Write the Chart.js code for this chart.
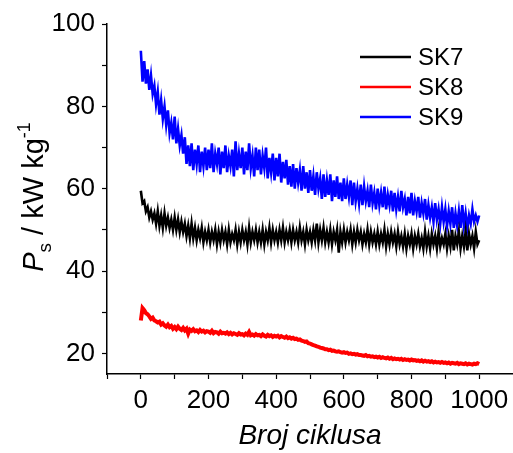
<!DOCTYPE html>
<html lang="hr">
<head>
  <meta charset="UTF-8" />
  <title>Ps vs broj ciklusa</title>
  <script src="https://cdn.jsdelivr.net/npm/chart.js"></script>
  <style>
    body {
      margin: 0;
      background-color: white;
    }
  </style>
</head>
<body>
  <canvas id="psChart" width="513" height="453"></canvas>

  <script>
    // broj ciklusa (svakih 5)
    const cycles = [
      0, 5, 10, 15, 20, 25, 30, 35, 40, 45, 50, 55, 60, 65, 70, 75, 80, 85, 90, 95,
      100, 105, 110, 115, 120, 125, 130, 135, 140, 145, 150, 155, 160, 165, 170, 175, 180, 185, 190, 195,
      200, 205, 210, 215, 220, 225, 230, 235, 240, 245, 250, 255, 260, 265, 270, 275, 280, 285, 290, 295,
      300, 305, 310, 315, 320, 325, 330, 335, 340, 345, 350, 355, 360, 365, 370, 375, 380, 385, 390, 395,
      400, 405, 410, 415, 420, 425, 430, 435, 440, 445, 450, 455, 460, 465, 470, 475, 480, 485, 490, 495,
      500, 505, 510, 515, 520, 525, 530, 535, 540, 545, 550, 555, 560, 565, 570, 575, 580, 585, 590, 595,
      600, 605, 610, 615, 620, 625, 630, 635, 640, 645, 650, 655, 660, 665, 670, 675, 680, 685, 690, 695,
      700, 705, 710, 715, 720, 725, 730, 735, 740, 745, 750, 755, 760, 765, 770, 775, 780, 785, 790, 795,
      800, 805, 810, 815, 820, 825, 830, 835, 840, 845, 850, 855, 860, 865, 870, 875, 880, 885, 890, 895,
      900, 905, 910, 915, 920, 925, 930, 935, 940, 945, 950, 955, 960, 965, 970, 975, 980, 985, 990, 995,
      1000
    ];

    const sk7 = [
      59.5, 56.5, 57, 54.5, 55.5, 53, 54.5, 52.5, 54, 51.5,
      54.5, 51, 53.5, 50.5, 54, 51, 53, 50.5, 52.5, 50,
      53, 50, 52.5, 49.5, 52, 49.5, 51.5, 48.5, 51, 48,
      51.5, 48, 50.5, 47.5, 50, 48, 50.5, 47, 49.5, 47.5,
      50, 47, 49.5, 47.5, 50, 46.5, 49.5, 47, 50, 47.5,
      49.5, 46.5, 50, 47, 49, 47.5, 50, 46.5, 49.5, 47,
      50, 47.5, 49.5, 46.5, 50.5, 47, 49.5, 47.5, 50, 47,
      49.5, 47, 50, 46.5, 49.5, 47.5, 50.5, 47, 50, 47.5,
      49.5, 47, 50, 47.5, 50.5, 47, 49.5, 47.5, 50, 47,
      50, 47.5, 49.5, 47, 50.5, 47.5, 49.5, 46.5, 50, 47.5,
      49.5, 47, 50, 47.5, 51.5, 47, 50, 47.5, 50.5, 47,
      49.5, 47, 50, 46.5, 49.5, 47.5, 50, 44.5, 49.5, 47,
      50, 47, 49.5, 47.5, 50, 46.5, 49.5, 47, 50, 47.5,
      49.5, 46.5, 49, 47, 50, 46.5, 49.5, 47, 49, 46.5,
      49.5, 46.5, 49, 47, 50, 46, 49, 46.5, 49.5, 47,
      49, 46, 49.5, 46.5, 48.5, 46, 49, 45.5, 48.5, 46.5,
      49, 45.5, 48.5, 46.5, 49, 46, 48, 45.5, 49.5, 46,
      48.5, 45.5, 49, 46.5, 48.5, 45.5, 49.5, 46, 48, 46.5,
      49, 45.5, 48.5, 46, 50, 45, 48.5, 46.5, 49.5, 45.5,
      48.5, 46, 49.5, 45, 49, 46.5, 48.5, 45.5, 49.5, 46.5,
      47.5
    ];

    const sk8 = [
      28, 31, 30.5, 29.8, 29.5, 29, 28.4, 28.7, 28, 27.8,
      27.5, 27.7, 27, 27.3, 26.8, 26.5, 27, 26.4, 26.7, 26,
      26.4, 25.9, 26.5, 26, 25.7, 26.2, 25.6, 26, 24.8, 25.8,
      25.5, 25.9, 25.4, 25.6, 25.2, 25.7, 25.3, 25.5, 25.1, 25.4,
      25.3, 25, 25.5, 24.9, 25.2, 25.1, 24.8, 25.3, 24.9, 25,
      24.8, 25.1, 24.7, 25, 24.6, 24.9, 24.7, 24.5, 24.9, 24.6,
      24.7, 24.4, 24.8, 24.5, 25.2, 24.4, 24.6, 24.3, 24.7, 24.4,
      24.5, 24.2, 24.6, 24.3, 24.1, 24.5, 24.2, 24.4, 24, 24.3,
      24.1, 24.3, 23.9, 24.2, 24, 23.8, 24.1, 23.7, 23.9, 23.6,
      23.8, 23.5, 23.6, 23.3, 23.4, 23.1, 23, 22.8, 22.9, 22.5,
      22.4, 22.2, 22, 21.9, 21.7, 21.6, 21.4, 21.3, 21.2, 21,
      21, 20.8, 20.9, 20.6, 20.7, 20.5, 20.4, 20.5, 20.3, 20.2,
      20.3, 20.1, 20.2, 19.9, 20, 19.8, 19.9, 19.7, 19.8, 19.6,
      19.6, 19.5, 19.4, 19.6, 19.3, 19.4, 19.2, 19.3, 19.1, 19.2,
      19, 19.2, 18.9, 19.1, 18.9, 18.8, 19, 18.7, 18.9, 18.6,
      18.8, 18.6, 18.7, 18.5, 18.7, 18.4, 18.6, 18.4, 18.5, 18.3,
      18.5, 18.3, 18.4, 18.2, 18.3, 18.1, 18.3, 18, 18.2, 18,
      18.1, 17.9, 18.1, 17.8, 18, 17.8, 17.9, 17.7, 17.9, 17.7,
      17.8, 17.6, 17.8, 17.5, 17.7, 17.6, 17.5, 17.7, 17.4, 17.6,
      17.5, 17.4, 17.6, 17.3, 17.5, 17.4, 17.3, 17.5, 17.4, 17.6,
      17.4
    ];

    const sk9 = [
      93.5, 86, 91, 85.5, 89, 84, 87.5, 83, 85, 80.5,
      83.5, 78, 81.5, 77, 80, 75.5, 79, 73.5, 76, 72,
      77.5, 71, 74.5, 70.5, 73, 68.5, 72.5, 66, 70.5, 65.5,
      71, 64.5, 69.5, 66, 70.5, 64, 69, 65.5, 70, 64.5,
      69.5, 65, 71, 64, 68.5, 66, 70, 63.5, 69, 65,
      70.5, 64, 68, 65.5, 69.5, 63, 71.5, 64.5, 68.5, 65,
      70, 63.5, 69, 64.5, 71, 65, 68, 63, 70, 64.5,
      69.5, 63.5, 68, 65, 70, 62.5, 67.5, 64, 68.5, 62,
      67.5, 63, 68.5, 61.5, 66.5, 62.5, 67, 61, 65.5, 60.5,
      66, 60, 65, 61.5, 64.5, 59.5, 65.5, 60, 64, 59,
      64.5, 59.5, 63, 58.5, 64, 60, 62.5, 57.5, 63.5, 58,
      62, 58.5, 63.5, 57, 62, 58, 63, 57.5, 61.5, 57,
      62.5, 57.5, 61, 58, 62, 56, 61.5, 57, 60, 56.5,
      61, 56, 60.5, 57, 59.5, 55.5, 61, 56.5, 59, 55,
      60, 56, 59, 55.5, 60.5, 55, 58.5, 56, 59.5, 54.5,
      59, 55, 58, 54.5, 59.5, 55.5, 57.5, 53.5, 58, 54,
      59, 53.5, 57, 54.5, 58, 53, 56.5, 54, 57.5, 52.5,
      56, 53, 55.5, 52, 56.5, 52.5, 55, 51.5, 55.5, 52,
      55, 51, 54.5, 51.5, 55.5, 50.5, 54, 51, 54.5, 50.5,
      56, 51, 54, 50.5, 53.5, 51.5, 55, 52, 53.5, 52,
      53.5
    ];

    const seriesNames = ["SK7", "SK8", "SK9"];
    const seriesColors = ["#000000", "#ff0000", "#0000ff"];
    const xTickValues = [-100, 0, 100, 200, 300, 400, 500, 600, 700, 800, 900, 1000];
    const xTicksLabeled = [0, 200, 400, 600, 800, 1000];
    const yTickValues = [20, 30, 40, 50, 60, 70, 80, 90, 100];
    const yTicksLabeled = [20, 40, 60, 80, 100];

    const toPoints = (values) => values.map((v, i) => ({ x: cycles[i], y: v }));

    const FONT = "'Liberation Sans', Arial, sans-serif";

    // legenda i naslov y osi crtamo sami
    const customDraw = {
      id: 'customDraw',
      afterDraw(chart) {
        const ctx = chart.ctx;
        ctx.save();

        // legenda
        chart.data.datasets.forEach((ds, i) => {
          const y = 57 + i * 30;
          ctx.strokeStyle = ds.borderColor;
          ctx.lineWidth = 2.5;
          ctx.beginPath();
          ctx.moveTo(360, y);
          ctx.lineTo(411, y);
          ctx.stroke();
          ctx.fillStyle = 'black';
          ctx.font = '24px ' + FONT;
          ctx.textBaseline = 'middle';
          ctx.textAlign = 'left';
          ctx.fillText(ds.label, 418, y + 1);
        });

        // naslov y osi: P_s / kW kg^-1
        const parts = [
          { t: 'P', font: 'italic 29px ' + FONT, dy: 0 },
          { t: 's', font: '19px ' + FONT, dy: 8 },
          { t: ' / kW kg', font: '29px ' + FONT, dy: 0 },
          { t: '-1', font: '18px ' + FONT, dy: -13 }
        ];
        let total = 0;
        parts.forEach(p => { ctx.font = p.font; p.w = ctx.measureText(p.t).width; total += p.w; });
        ctx.translate(43, 197);
        ctx.rotate(-Math.PI / 2);
        ctx.textBaseline = 'alphabetic';
        ctx.textAlign = 'left';
        ctx.fillStyle = 'black';
        let x = -total / 2;
        parts.forEach(p => {
          ctx.font = p.font;
          ctx.fillText(p.t, x, p.dy);
          x += p.w;
        });
        ctx.restore();
      }
    };

    new Chart(document.getElementById('psChart').getContext('2d'), {
      type: 'line',
      data: {
        datasets: seriesNames.map((name, i) => ({
          label: name,
          data: toPoints([sk7, sk8, sk9][i]),
          borderColor: seriesColors[i],
          borderWidth: i === 1 ? 4 : 2.6,
          pointRadius: 0,
          fill: false,
          tension: 0
        }))
      },
      options: {
        responsive: false,
        animation: false,
        layout: { padding: { top: 24, right: 0, left: 0, bottom: 0 } },
        plugins: {
          legend: { display: false },
          tooltip: { enabled: false }
        },
        scales: {
          x: {
            type: 'linear',
            min: -100,
            max: 1100,
            border: { color: 'black', width: 1.5 },
            grid: { drawOnChartArea: false, color: 'black', tickLength: 5, tickWidth: 1.2 },
            afterBuildTicks: (scale) => { scale.ticks = xTickValues.map(v => ({ value: v })); },
            ticks: {
              autoSkip: false,
              maxRotation: 0,
              color: 'black',
              padding: 6,
              font: { family: FONT, size: 26 },
              callback: (v) => xTicksLabeled.includes(v) ? String(v) : ''
            },
            title: {
              display: true,
              text: 'Broj ciklusa',
              color: 'black',
              padding: { top: 0, bottom: 0 },
              font: { family: FONT, size: 28, style: 'italic' }
            },
            afterFit: (scale) => {
              scale.height = 79;
              scale.paddingRight = 0;
            }
          },
          y: {
            min: 15,
            max: 100,
            border: { color: 'black', width: 1.5 },
            grid: { drawOnChartArea: false, color: 'black', tickLength: 5, tickWidth: 1.2 },
            afterBuildTicks: (scale) => { scale.ticks = yTickValues.map(v => ({ value: v })); },
            ticks: {
              autoSkip: false,
              color: 'black',
              padding: 7,
              font: { family: FONT, size: 26 },
              callback: (v) => yTicksLabeled.includes(v) ? String(v) : ''
            },
            afterFit: (scale) => { scale.width = 107; }
          }
        }
      },
      plugins: [customDraw]
    });
  </script>
</body>
</html>
